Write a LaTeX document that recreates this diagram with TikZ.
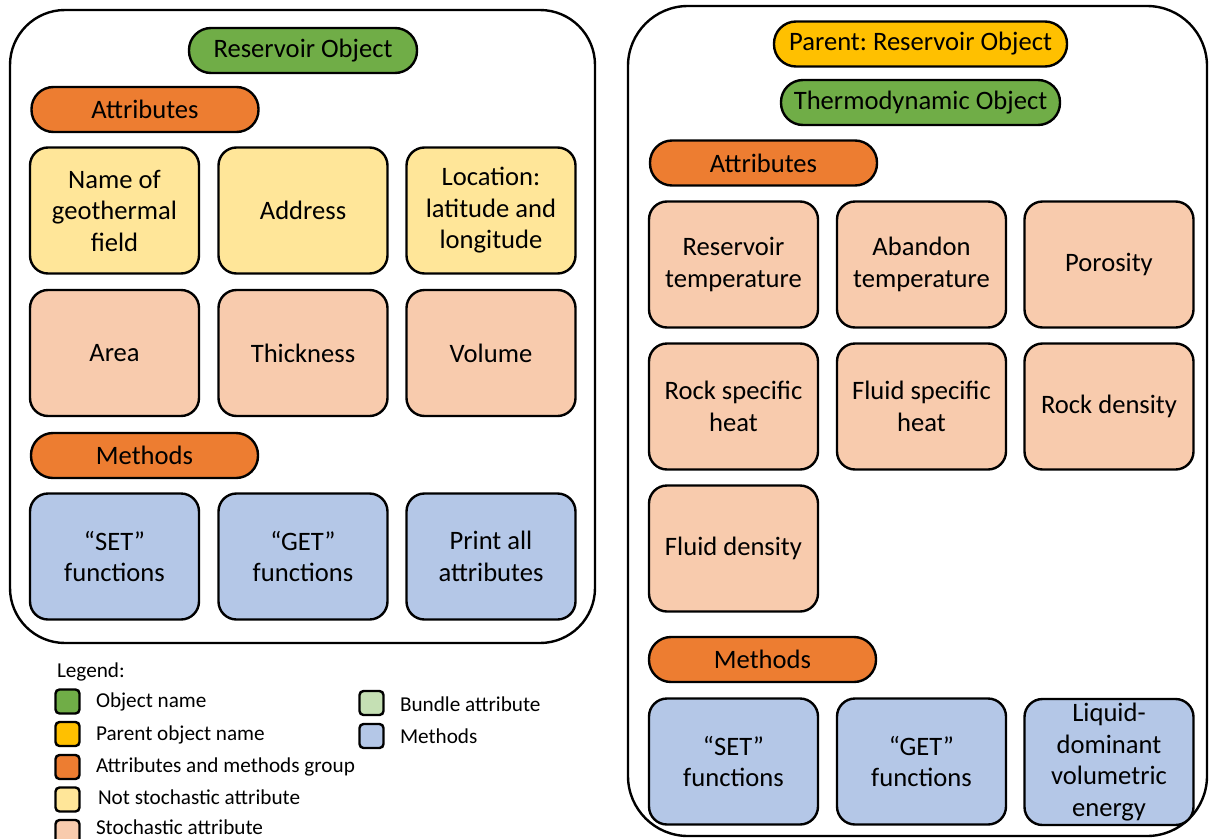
\documentclass[tikz,border=0pt]{standalone}
\usepackage{fontspec}
\setmainfont{Carlito}
\frenchspacing
\begin{document}
\begin{tikzpicture}[x=1pt,y=-1pt,
  every node/.style={inner sep=0pt, outer sep=0pt},
  box/.style={draw=black, line width=2.4pt, rounded corners=18pt, align=center,
    minimum width=169pt, minimum height=126pt, font=\fontsize{26.6}{31.5}\selectfont},
  pill/.style={draw=black, line width=2.4pt, rounded corners=22pt, align=center,
    minimum height=45pt, font=\fontsize{26.6}{31.5}\selectfont},
  frame/.style={draw=black, line width=2.4pt},
  swatch/.style={draw=black, line width=2.4pt, rounded corners=4pt, minimum width=24pt, minimum height=24pt},
  legtext/.style={anchor=west, font=\fontsize{21.2}{25}\selectfont},
  objname/.style={pill, fill=cGreen},
  parentname/.style={pill, fill=cGold},
  group/.style={pill, fill=cOrange, minimum width=227pt},
  fixedattr/.style={box, fill=cCream},
  stochattr/.style={box, fill=cPeach},
  method/.style={box, fill=cBlue}]

\definecolor{cGreen}{HTML}{70AD47}
\definecolor{cGold}{HTML}{FFC000}
\definecolor{cOrange}{HTML}{ED7D31}
\definecolor{cCream}{HTML}{FFE699}
\definecolor{cPeach}{HTML}{F8CBAD}
\definecolor{cMint}{HTML}{C5E0B4}
\definecolor{cBlue}{HTML}{B4C7E7}

\useasboundingbox (0,0) rectangle (1210,838);

% ---------- Reservoir object ----------
\draw[frame, rounded corners=55pt] (10,10) rectangle (595,643);
\node[objname, minimum width=228pt] (resobj) at (303,50.5) {Reservoir Object};
\node[group] (resattr) at (145,109.5) {Attributes};

\node[fixedattr] (name)  at (114.5,210.5) {Name of\\geothermal\\field};
\node[fixedattr] (addr)  at (303,210.5) {Address};
\node[fixedattr] (loc)   at (491,210.5) {Location:\\latitude and\\longitude};

\node[stochattr] (area)  at (114.5,353) {Area};
\node[stochattr] (thick) at (303,353) {Thickness};
\node[stochattr] (vol)   at (491,353) {Volume};

\node[group] (resmeth) at (144.5,455.5) {Methods};

\node[method] (rset)   at (114.5,556.5) {“SET”\\functions};
\node[method] (rget)   at (303,556.5) {“GET”\\functions};
\node[method] (rprint) at (491,556.5) {Print all\\attributes};

% ---------- Thermodynamic object ----------
\draw[frame, rounded corners=60pt] (628,6) rectangle (1207,836);
\node[parentname, minimum width=293pt] (parent) at (920.5,44) {Parent: Reservoir Object};
\node[objname, minimum width=279pt] (thermo) at (920.5,102.5) {Thermodynamic Object};
\node[group] (thattr) at (763.5,163) {Attributes};

\node[stochattr] (restemp) at (733.5,264.5) {Reservoir\\temperature};
\node[stochattr] (abtemp)  at (921.5,264.5) {Abandon\\temperature};
\node[stochattr] (poro)    at (1109,264.5) {Porosity};

\node[stochattr] (rockcp)  at (733.5,406.5) {Rock specific\\heat};
\node[stochattr] (fluidcp) at (921.5,406.5) {Fluid specific\\heat};
\node[stochattr] (rockrho) at (1109,406.5) {Rock density};

\node[stochattr] (fluidrho) at (733.5,548.5) {Fluid density};

\node[group] (thmeth) at (762.5,659.5) {Methods};

\node[method] (tset)  at (733.5,761.5) {“SET”\\functions};
\node[method] (tget)  at (921.5,761.5) {“GET”\\functions};
\node[method] (tenergy) at (1109,762) {Liquid-\\dominant\\volumetric\\energy};

% ---------- Legend ----------
\node[legtext] (legtitle) at (57,671.5) {Legend:};

\node[swatch, fill=cGreen]  (sw1) at (67.5,701.5) {};
\node[swatch, fill=cGold]   (sw2) at (67.5,734) {};
\node[swatch, fill=cOrange] (sw3) at (67.5,767) {};
\node[swatch, fill=cCream]  (sw4) at (67.5,799.5) {};
\node[swatch, fill=cPeach]  (sw5) at (67.5,832) {};
\node[legtext] (lt1) at (96,702) {Object name};
\node[legtext] (lt2) at (96,734.5) {Parent object name};
\node[legtext] (lt3) at (96,766.5) {Attributes and methods group};
\node[legtext] (lt4) at (98,797.5) {Not stochastic attribute};
\node[legtext] (lt5) at (96,827.5) {Stochastic attribute};

\node[swatch, fill=cMint] (sw6) at (371.5,703) {};
\node[swatch, fill=cBlue] (sw7) at (371.5,736) {};
\node[legtext] (lt6) at (400,704) {Bundle attribute};
\node[legtext] (lt7) at (400,736.5) {Methods};
\end{tikzpicture}
\end{document}
